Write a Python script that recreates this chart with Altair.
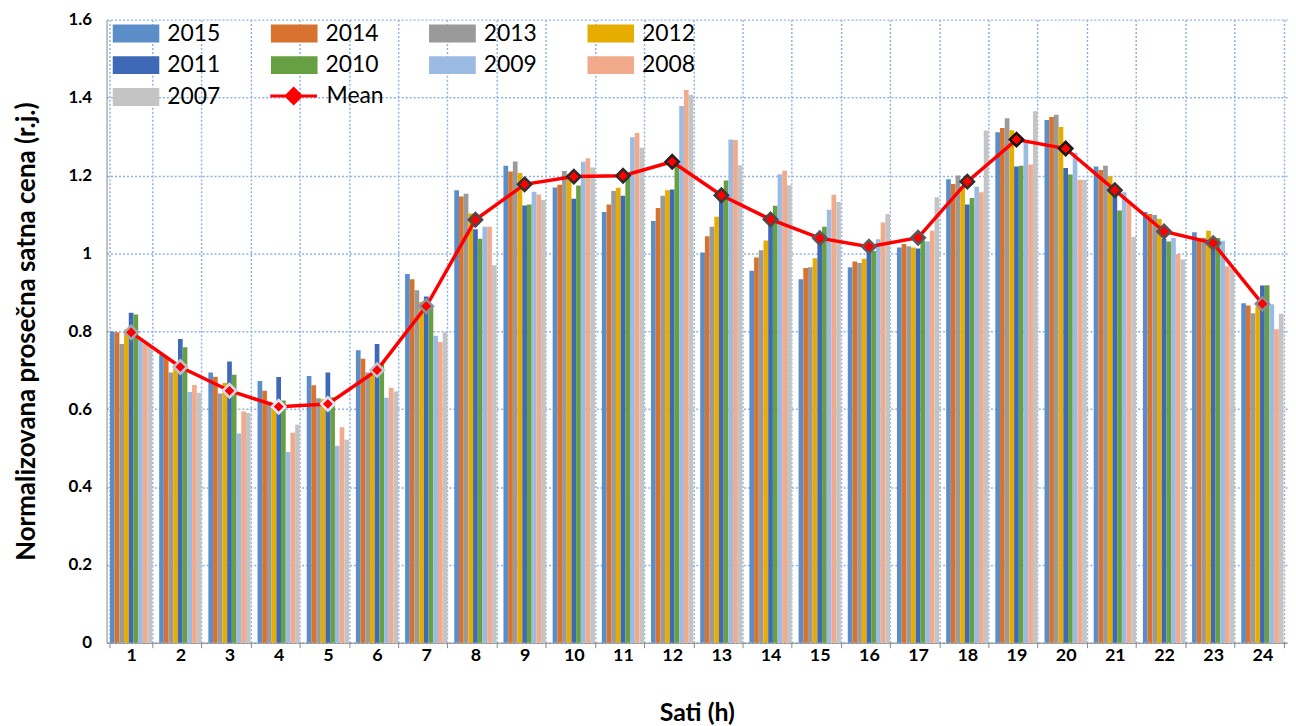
import altair as alt
import pandas as pd

hours = list(range(1, 25))
years = ["2015", "2014", "2013", "2012", "2011", "2010", "2009", "2008", "2007"]
colors = ["#5B8EC9", "#D8732F", "#9A9A9A", "#E6AC00", "#3F69B6", "#67A043", "#9CBBE3", "#F2AA8C", "#C4C4C4"]

v2015 = [0.799, 0.739, 0.694, 0.672, 0.685, 0.751, 0.947, 1.162, 1.225, 1.169, 1.106, 1.083, 1.002, 0.955, 0.933, 0.964, 1.015, 1.190, 1.311, 1.342, 1.223, 1.106, 1.054, 0.872]
v2014 = [0.797, 0.733, 0.683, 0.647, 0.661, 0.729, 0.933, 1.146, 1.210, 1.176, 1.125, 1.116, 1.044, 0.989, 0.962, 0.979, 1.024, 1.178, 1.322, 1.350, 1.214, 1.101, 1.039, 0.866]
v2013 = [0.767, 0.694, 0.640, 0.619, 0.628, 0.694, 0.905, 1.153, 1.236, 1.211, 1.160, 1.148, 1.068, 1.008, 0.964, 0.975, 1.018, 1.200, 1.347, 1.356, 1.225, 1.098, 1.040, 0.846]
v2012 = [0.804, 0.707, 0.667, 0.611, 0.625, 0.697, 0.875, 1.102, 1.206, 1.203, 1.168, 1.162, 1.094, 1.033, 0.987, 0.986, 1.015, 1.173, 1.316, 1.324, 1.198, 1.088, 1.058, 0.862]
v2011 = [0.847, 0.780, 0.722, 0.682, 0.694, 0.767, 0.889, 1.062, 1.123, 1.140, 1.148, 1.164, 1.143, 1.084, 1.028, 1.011, 1.012, 1.125, 1.223, 1.219, 1.152, 1.037, 1.030, 0.917]
v2010 = [0.843, 0.759, 0.688, 0.622, 0.630, 0.719, 0.862, 1.037, 1.125, 1.174, 1.194, 1.224, 1.187, 1.122, 1.068, 1.006, 1.033, 1.142, 1.225, 1.202, 1.110, 1.030, 1.039, 0.918]
v2009 = [0.780, 0.644, 0.537, 0.490, 0.506, 0.629, 0.788, 1.068, 1.158, 1.235, 1.298, 1.378, 1.292, 1.203, 1.112, 1.036, 1.030, 1.171, 1.288, 1.258, 1.157, 1.039, 1.032, 0.869]
v2008 = [0.768, 0.662, 0.594, 0.539, 0.553, 0.655, 0.772, 1.068, 1.151, 1.244, 1.309, 1.419, 1.291, 1.212, 1.150, 1.079, 1.058, 1.157, 1.228, 1.189, 1.135, 0.998, 0.967, 0.805]
v2007 = [0.760, 0.642, 0.590, 0.560, 0.521, 0.645, 0.797, 0.969, 1.137, 1.220, 1.271, 1.407, 1.226, 1.175, 1.132, 1.101, 1.144, 1.315, 1.365, 1.189, 1.042, 0.984, 0.960, 0.845]
mean = [0.797, 0.708, 0.647, 0.606, 0.613, 0.700, 0.864, 1.086, 1.177, 1.197, 1.199, 1.235, 1.149, 1.087, 1.039, 1.017, 1.040, 1.184, 1.292, 1.269, 1.162, 1.056, 1.026, 0.870]

series = [v2015, v2014, v2013, v2012, v2011, v2010, v2009, v2008, v2007]
rows = []
for y, vals in zip(years, series):
    for h, v in zip(hours, vals):
        rows.append({"hour": h, "year": y, "value": v})
bars_df = pd.DataFrame(rows)
mean_df = pd.DataFrame({"hour": hours, "mean": mean, "series": ["Mean"] * len(hours)})

FONT = "Lato"
x_enc = alt.X("hour:O", title="Sati (h)",
              scale=alt.Scale(paddingInner=0.14, paddingOuter=0.07),
              axis=alt.Axis(labelAngle=0, labelFontSize=18, labelFontWeight="bold",
                            labelColor="black", labelFont=FONT, labelPadding=-1,
                            titleFontSize=25, titleFontWeight="bold", titleFont=FONT,
                            titleColor="black", titlePadding=36,
                            grid=True, tickBand="extent", gridColor="#8DB3E2",
                            gridDash=[2, 2], gridWidth=1.5,
                            domainColor="#868686", tickColor="#868686", tickSize=5))

bars = alt.Chart(bars_df).mark_bar().encode(
    x=x_enc,
    xOffset=alt.XOffset("year:N", sort=years, scale=alt.Scale(paddingInner=0, paddingOuter=0)),
    y=alt.Y("value:Q", title="Normalizovana prosečna satna cena (r.j.)",
            scale=alt.Scale(domain=[0, 1.6], nice=False),
            axis=alt.Axis(values=[0, 0.2, 0.4, 0.6, 0.8, 1.0, 1.2, 1.4, 1.6], format=".1~f",
                          labelFontSize=17, labelFontWeight="bold", labelColor="black",
                          labelFont=FONT, labelPadding=15, ticks=False,
                          titleFontSize=26, titleFontWeight="bold", titleFont=FONT,
                          titleColor="black", titlePadding=29,
                          gridColor="#8DB3E2", gridDash=[2, 2], gridWidth=1.5,
                          domainColor="#868686")),
    fill=alt.Fill("year:N", sort=years, scale=alt.Scale(domain=years, range=colors),
                  legend=alt.Legend(title=None, orient="none", legendX=6, legendY=-2,
                                    direction="horizontal",
                                    columns=4, symbolType="M-1,-0.383H1V0.383H-1Z",
                                    symbolSize=2209, symbolStrokeWidth=0,
                                    labelFontSize=23, labelFont=FONT, labelColor="black",
                                    labelOffset=8, columnPadding=50, rowPadding=0,
                                    clipHeight=31.5, labelLimit=200)),
)

line = alt.Chart(mean_df).mark_line(strokeWidth=3.5).encode(
    x=alt.X("hour:O"),
    y=alt.Y("mean:Q"),
    stroke=alt.Stroke("series:N", scale=alt.Scale(domain=["Mean"], range=["#FF0000"]),
                      legend=alt.Legend(title=None, orient="none", legendX=6 + 157,
                                        legendY=-2 + 63,
                                        symbolType="M-1,0H1M0,-0.32L0.32,0L0,0.32L-0.32,0Z",
                                        symbolSize=2209, symbolStrokeWidth=3,
                                        symbolFillColor="#FF0000",
                                        labelFontSize=23, labelFont=FONT, labelColor="black",
                                        labelOffset=8, clipHeight=31.5)),
)

points = alt.Chart(mean_df).mark_point(shape="diamond", filled=True, size=180,
                                       fill="#FF0000", strokeWidth=2.5, opacity=1).encode(
    x=alt.X("hour:O"),
    y=alt.Y("mean:Q"),
    stroke=alt.Stroke("mean:Q", scale=alt.Scale(domain=[0.6, 1.3], range=["#E3EAF7", "#111111"]),
                      legend=None),
)

chart = alt.layer(bars, line, points).resolve_scale(stroke="independent").properties(
    width=1186, height=626,
    autosize=alt.AutoSizeParams(type="none"),
    padding={"left": 99, "top": 10, "right": 1, "bottom": 82},
).configure_view(stroke=None)

chart.save("out.html", embed_options={"renderer": "svg", "actions": False})
